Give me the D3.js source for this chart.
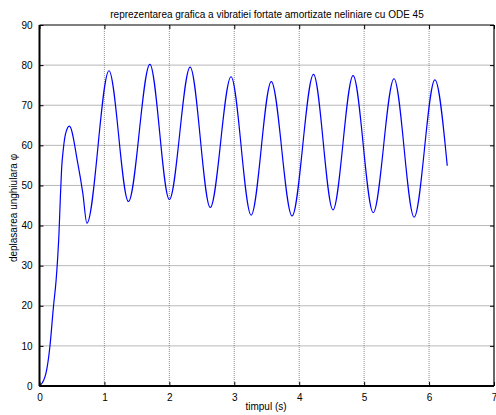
<!DOCTYPE html>
<html>
<head>
<meta charset="utf-8">
<title>vibratii fortate</title>
<script src="https://d3js.org/d3.v7.min.js"></script>
<style>
  body { margin: 0; background: #fff; }
  svg text { font-family: Arial, "Liberation Sans", Helvetica, sans-serif; fill: #000; }
</style>
</head>
<body>
<div id="chart"></div>
<script>
// values (time in s, angle)
var timpul = [0, 0.015, 0.10, 0.16, 0.215, 0.256, 0.28, 0.30, 0.32, 0.34, 0.37, 0.40, 0.46,
              0.59, 0.667, 0.73, 1.07, 1.37, 1.70, 2.00, 2.32, 2.63, 2.95,
              3.26, 3.57, 3.89, 4.22, 4.52, 4.83, 5.14, 5.46, 5.77, 6.09, 6.28];
var phi = [0, 0.2, 3.2, 9.8, 19.8, 26.4, 32.0, 38.0, 46.5, 54.0, 59.5, 62.8, 64.8,
           55.5, 48.1, 40.6, 78.6, 46.0, 80.2, 46.5, 79.5, 44.5, 77.1,
           42.6, 75.9, 42.4, 77.7, 43.9, 77.4, 43.2, 76.6, 42.1, 76.3, 54.9];
var xTicks = [0, 1, 2, 3, 4, 5, 6, 7];
var yTicks = [0, 10, 20, 30, 40, 50, 60, 70, 80, 90];

// plot box (note: "top" is reserved on window, so use m.* names)
var W = 496, H = 415;
var m = {left: 39.5, right: 494, top: 25, bottom: 386};

var svg = d3.select("#chart").append("svg")
    .attr("width", W).attr("height", H);

var x = d3.scaleLinear().domain([0, 7]).range([m.left, m.right]);
var y = d3.scaleLinear().domain([0, 90]).range([m.bottom, m.top]);

// grid
svg.append("g").selectAll("line").data(xTicks.slice(1, -1)).enter().append("line")
    .attr("x1", function(d) { return x(d); }).attr("x2", function(d) { return x(d); })
    .attr("y1", m.top).attr("y2", m.bottom)
    .attr("stroke", "#a0a0a0").attr("stroke-width", 1.2).attr("stroke-dasharray", "1,1");
svg.append("g").selectAll("line").data(yTicks.slice(1, -1)).enter().append("line")
    .attr("x1", m.left).attr("x2", m.right)
    .attr("y1", function(d) { return y(d); }).attr("y2", function(d) { return y(d); })
    .attr("stroke", "#707070").attr("stroke-width", 1).attr("stroke-dasharray", "1,1");

// curve
var pts = timpul.map(function(t, i) { return [t, phi[i]]; });
var line = d3.line()
    .x(function(d) { return x(d[0]); })
    .y(function(d) { return y(d[1]); })
    .curve(d3.curveMonotoneX);
svg.append("path").datum(pts)
    .attr("d", line)
    .attr("fill", "none").attr("stroke", "#0000ff").attr("stroke-width", 1.2);

// axes (ticks inside, like matlab)
var xb = d3.axisBottom(x).tickValues(xTicks).tickSize(-4).tickPadding(8).tickFormat(d3.format("d"));
var xt = d3.axisTop(x).tickValues(xTicks).tickSize(-4).tickFormat("");
var yl = d3.axisLeft(y).tickValues(yTicks).tickSize(-4).tickPadding(7).tickFormat(d3.format("d"));
var yr = d3.axisRight(y).tickValues(yTicks).tickSize(-4).tickFormat("");

function style(g, w) {
  g.select(".domain").attr("stroke", "#000").attr("stroke-width", w);
  g.selectAll(".tick line").attr("stroke", "#000");
  g.selectAll("text").attr("font-size", 10).attr("fill", "#000");
}
svg.append("g").attr("transform", "translate(0," + m.bottom + ")").call(xb).call(style, 2)
    .call(function(g) { g.select(".domain").attr("d", "M" + m.left + ",0H" + m.right); });
svg.append("g").attr("transform", "translate(0," + m.top + ")").call(xt).call(style, 1.2)
    .call(function(g) { g.select(".domain").attr("d", "M" + m.left + ",0H" + m.right); });
svg.append("g").attr("transform", "translate(" + m.left + ",0)").call(yl).call(style, 2)
    .call(function(g) { g.select(".domain").attr("d", "M0," + m.top + "V" + m.bottom); });
svg.append("g").attr("transform", "translate(" + m.right + ",0)").call(yr).call(style, 1.2)
    .call(function(g) { g.select(".domain").attr("d", "M0," + m.top + "V" + m.bottom); });

// labels
svg.append("text").attr("x", 267).attr("y", 17.5).attr("text-anchor", "middle")
    .attr("font-size", 10).text("reprezentarea grafica a vibratiei fortate amortizate neliniare cu ODE 45");
svg.append("text").attr("x", 266).attr("y", 410).attr("text-anchor", "middle")
    .attr("font-size", 10).text("timpul (s)");
svg.append("text").attr("transform", "translate(17,208) rotate(-90)").attr("text-anchor", "middle")
    .attr("font-size", 10).text("deplasarea unghiulara \u03c6");
</script>
</body>
</html>
